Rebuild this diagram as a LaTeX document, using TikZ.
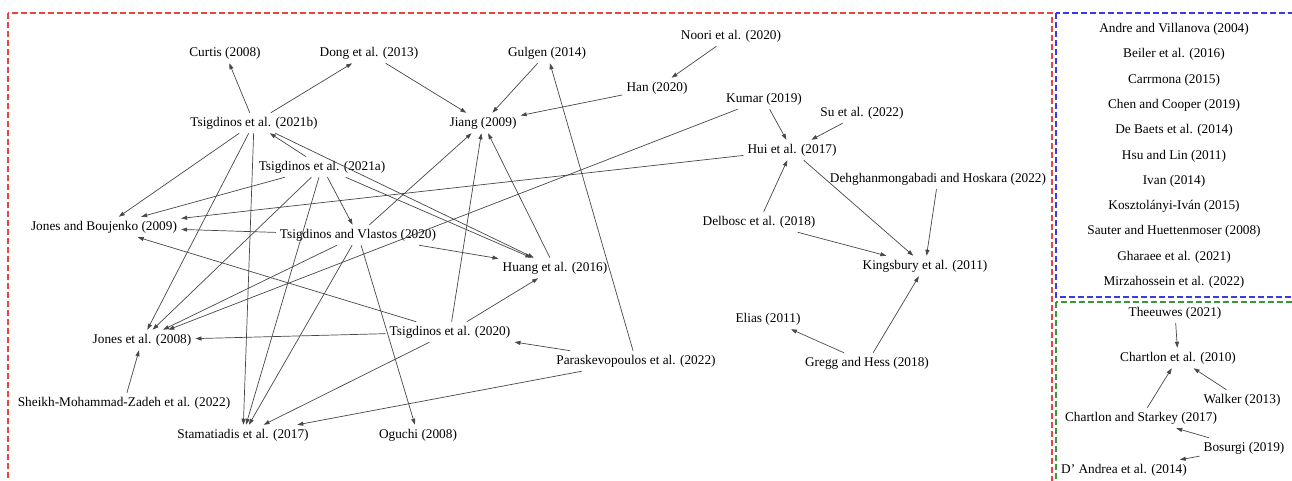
\documentclass[tikz,border=0pt]{standalone}
\usepackage{fontspec}
\setmainfont{Liberation Serif}
\usetikzlibrary{arrows.meta}
\definecolor{boxred}{RGB}{232,68,68}
\definecolor{boxblue}{RGB}{58,58,228}
\definecolor{boxgreen}{RGB}{58,152,58}
\begin{document}
\begin{tikzpicture}[x=1pt, y=-1pt,
    paper/.style ={inner sep=4pt, font=\fontsize{13.3}{15}\selectfont},
    cites/.style ={-{Triangle[length=6pt,width=4pt]}, draw=black!72, line width=0.7pt},
    panel/.style ={dash pattern=on 6pt off 3pt, line width=1.2pt}]
   \clip (0,0) rectangle (1292,481);

   % panels
   \draw[panel, boxred]   (8,13)    rectangle (1052,495);
   \draw[panel, boxblue]  (1056,13) rectangle (1305,297);
   \draw[panel, boxgreen] (1056,302) rectangle (1305,495);

   % main graph
   \node[paper] (curtis)  at (225,53)  {Curtis (2008)};
   \node[paper] (dong)    at (369,53)  {Dong et al. (2013)};
   \node[paper] (gulgen)  at (547,53)  {Gulgen (2014)};
   \node[paper] (noori)   at (731,36)  {Noori et al. (2020)};
   \node[paper] (han)     at (657,88)  {Han (2020)};
   \node[paper] (tsig21b) at (254,123) {Tsigdinos et al. (2021b)};
   \node[paper] (jiang)   at (483,123) {Jiang (2009)};
   \node[paper] (kumar)   at (764,99)  {Kumar (2019)};
   \node[paper] (su)      at (862,113) {Su et al. (2022)};
   \node[paper] (tsig21a) at (322,167) {Tsigdinos et al. (2021a)};
   \node[paper] (hui)     at (792,150) {Hui et al. (2017)};
   \node[paper] (dehghan) at (938,179) {Dehghanmongabadi and Hoskara (2022)};
   \node[paper] (jonesb)  at (104,227) {Jones and Boujenko (2009)};
   \node[paper] (tsigvl)  at (358,235) {Tsigdinos and Vlastos (2020)};
   \node[paper] (delbosc) at (759,222) {Delbosc et al. (2018)};
   \node[paper] (huang)   at (555,268) {Huang et al. (2016)};
   \node[paper] (kings)   at (925,266) {Kingsbury et al. (2011)};
   \node[paper] (elias)   at (768,319) {Elias (2011)};
   \node[paper] (tsig20)  at (450,332) {Tsigdinos et al. (2020)};
   \node[paper] (jones08) at (142,340) {Jones et al. (2008)};
   \node[paper] (parask)  at (636,361) {Paraskevopoulos et al. (2022)};
   \node[paper] (gregg)   at (867,363) {Gregg and Hess (2018)};
   \node[paper] (sheikh)  at (124,403) {Sheikh-Mohammad-Zadeh et al. (2022)};
   \node[paper] (stam)    at (243,435) {Stamatiadis et al. (2017)};
   \node[paper] (oguchi)  at (418,435) {Oguchi (2008)};

   \draw[cites] (tsig21b) to (curtis);
   \draw[cites] (tsig21b) to (dong);
   \draw[cites] (tsig21b) to (jonesb);
   \draw[cites] (tsig21b) to (jones08);
   \draw[cites] (tsig21b) to (stam);
   \draw[cites] (tsig21b) to (huang);
   \draw[cites] (tsig21a) to (tsig21b);
   \draw[cites] (tsig21a) to (jonesb);
   \draw[cites] (tsig21a) to (tsigvl);
   \draw[cites] (tsig21a) to (jones08);
   \draw[cites] (tsig21a) to (stam);
   \draw[cites] (tsig21a) to (huang);
   \draw[cites] (tsigvl) to (jiang);
   \draw[cites] (tsigvl) to (huang);
   \draw[cites] (tsigvl) to (jonesb);
   \draw[cites] (tsigvl) to (jones08);
   \draw[cites] (tsigvl) to (stam);
   \draw[cites] (tsigvl) to (oguchi);
   \draw[cites] (tsig20) to (jiang);
   \draw[cites] (tsig20) to (huang);
   \draw[cites] (tsig20) to (jonesb);
   \draw[cites] (tsig20) to (jones08);
   \draw[cites] (tsig20) to (stam);
   \draw[cites] (parask) to (tsig20);
   \draw[cites] (parask) to (gulgen);
   \draw[cites] (parask) to (stam);
   \draw[cites] (dong) to (jiang);
   \draw[cites] (gulgen) to (jiang);
   \draw[cites] (han) to (jiang);
   \draw[cites] (noori) to (han);
   \draw[cites] (huang) to (jiang);
   \draw[cites] (kumar) to (hui);
   \draw[cites] (kumar) to (jones08);
   \draw[cites] (su) to (hui);
   \draw[cites] (delbosc) to (hui);
   \draw[cites] (hui) to (jonesb);
   \draw[cites] (hui) to (kings);
   \draw[cites] (dehghan) to (kings);
   \draw[cites] (delbosc) to (kings);
   \draw[cites] (gregg) to (kings);
   \draw[cites] (gregg) to (elias);
   \draw[cites] (sheikh) to (jones08);

   % unlinked papers
   \node[paper] (andre)   at (1174,29)  {Andre and Villanova (2004)};
   \node[paper] (beiler)  at (1174,54)  {Beiler et al. (2016)};
   \node[paper] (carr)    at (1174,80)  {Carrmona (2015)};
   \node[paper] (chen)    at (1174,105) {Chen and Cooper (2019)};
   \node[paper] (debaets) at (1174,130) {De Baets et al. (2014)};
   \node[paper] (hsu)     at (1174,156) {Hsu and Lin (2011)};
   \node[paper] (ivan)    at (1174,181) {Ivan (2014)};
   \node[paper] (koszt)   at (1174,206) {Kosztolányi-Iván (2015)};
   \node[paper] (sauter)  at (1174,231) {Sauter and Huettenmoser (2008)};
   \node[paper] (gharaee) at (1174,257) {Gharaee et al. (2021)};
   \node[paper] (mirza)   at (1174,282) {Mirzahossein et al. (2022)};

   % small cluster
   \node[paper] (theeuwes) at (1175,313) {Theeuwes (2021)};
   \node[paper] (chart10)  at (1178,358) {Chartlon et al. (2010)};
   \node[paper] (walker)   at (1242,400) {Walker (2013)};
   \node[paper] (chstark)  at (1141,418) {Chartlon and Starkey (2017)};
   \node[paper] (bosurgi)  at (1244,448) {Bosurgi (2019)};
   \node[paper] (dandrea)  at (1124,470) {D' Andrea et al. (2014)};

   \draw[cites] (theeuwes) to (chart10);
   \draw[cites] (walker) to (chart10);
   \draw[cites] (chstark) to (chart10);
   \draw[cites] (bosurgi) to (chstark);
   \draw[cites] (bosurgi) to (dandrea);

 \end{tikzpicture}
\end{document}
